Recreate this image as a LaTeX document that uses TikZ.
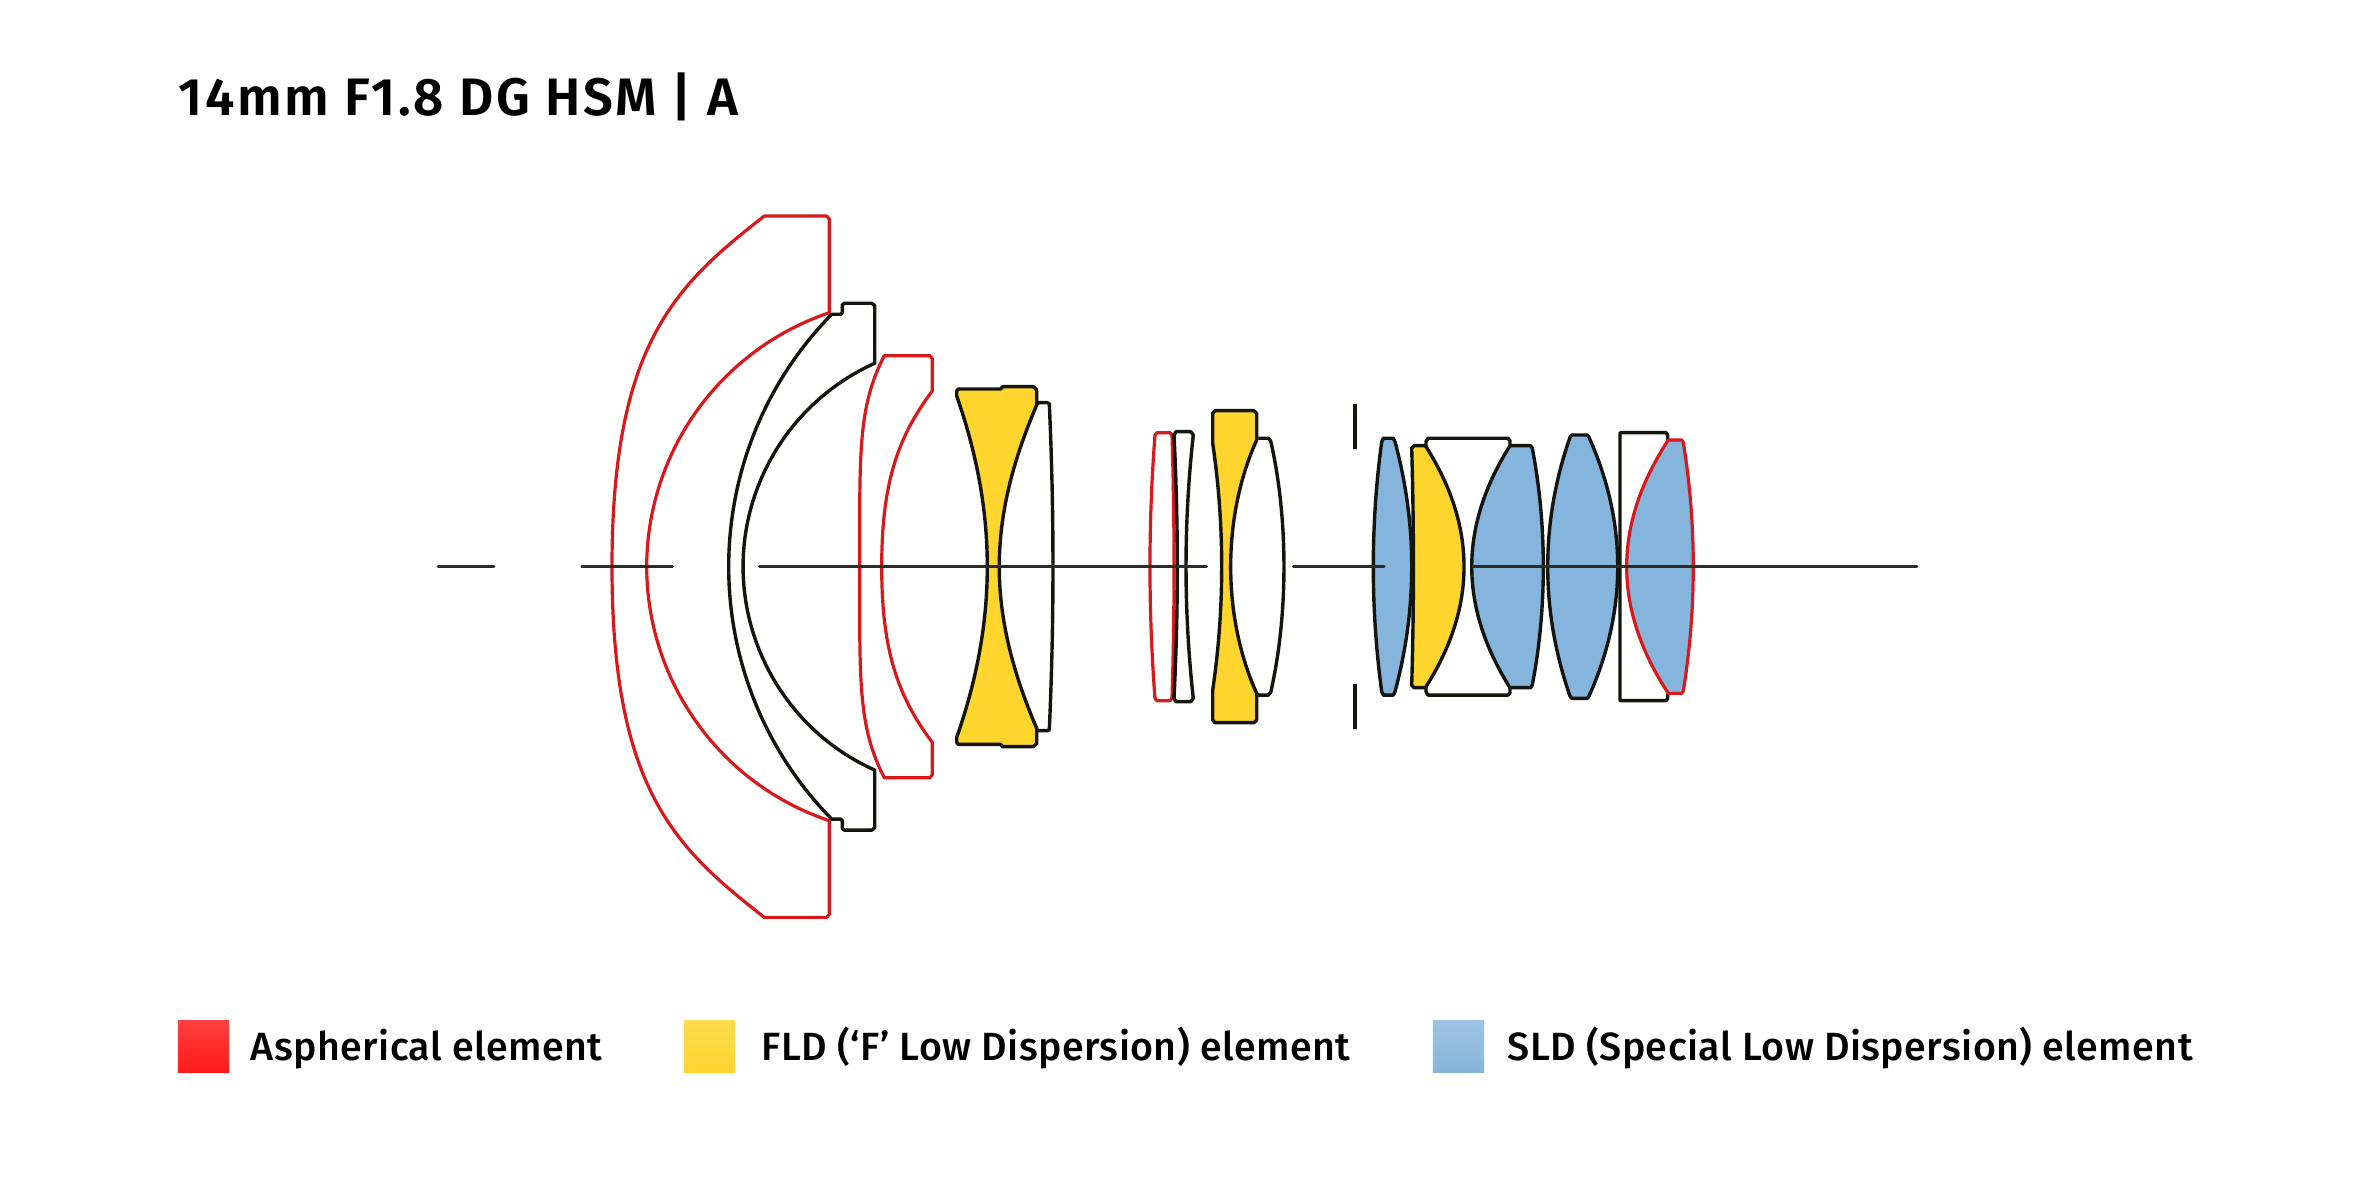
\documentclass[tikz,border=0pt]{standalone}
\usepackage{fontspec}
\setmainfont{Fira Sans}
\newfontfamily\legendfont[LetterSpace=1.1]{Fira Sans Medium}
\newfontfamily\titlefont[LetterSpace=4.9]{Fira Sans SemiBold}
\definecolor{lensred}{HTML}{D7191C}
\definecolor{lensink}{HTML}{15150F}
\definecolor{fldyellow}{HTML}{FFD52E}
\definecolor{sldblue}{HTML}{85B5DC}
\tikzset{
	redlens/.style={draw=lensred,line width=.032cm,line join=round},
	inklens/.style={draw=lensink,line width=.034cm,line join=round},
	axisline/.style={draw=lensink!90,line width=.026cm,line cap=round},
	swatch/.style={minimum size=.51cm,inner sep=0pt,outer sep=0pt},
	legendtext/.style={anchor=base west,inner sep=0pt,font=\fontsize{11.2pt}{13pt}\legendfont},
}
\begin{document}
\begin{tikzpicture}[x=.01cm,y=.01cm]
	\useasboundingbox (0,-636.3) rectangle (2362,566.7);
	\node[anchor=base west,inner sep=0pt,font=\fontsize{15pt}{18pt}\titlefont] (title) at (178,451) {14mm F1.8 DG HSM | A};
	%
	\draw[redlens] (764.3,350.7) .. controls (677.4,282.5) and (612,225) .. (612,0) .. controls (612,-225) and (677.4,-282.5) .. (764.3,-350.7)
		-- (826.7,-350.7) -- (829.3,-347.7) -- (829.3,-254) arc[start angle=251.4,end angle=108.6,radius=268]
		-- (829.3,347.7) -- (826.7,350.7) -- cycle;
	%
	\draw[inklens] (831.7,252.4) arc[start angle=135.6,end angle=224.4,radius=360.8]
		-- (840.7,-252.4) -- (842.3,-254) -- (842.3,-261.7) -- (844.3,-263.4) -- (872,-263.4) -- (874.7,-261) -- (874.7,-203.4)
		arc[start angle=245.8,end angle=114.2,radius=223]
		-- (874.7,261) -- (872,263.4) -- (844.3,263.4) -- (842.3,261.7) -- (842.3,254) -- (840.7,252.4) -- cycle;
	%
	\draw[redlens] (884.3,211) .. controls (858,160) and (859.7,115) .. (859.7,0) .. controls (859.7,-115) and (858,-160) .. (884.3,-211)
		-- (930,-211) -- (932.3,-208) -- (932.3,-175.7)
		.. controls (896,-127.7) and (881.7,-80) .. (881.7,0) .. controls (881.7,80) and (896,127.7) .. (932.3,175.7)
		-- (932.3,208) -- (930,211) -- cycle;
	%
	\draw[inklens] (1036.7,161.7) -- (1037.3,164) -- (1047.3,164) -- (1049.3,163) .. controls (1054.2,55) and (1054.2,-55) .. (1049.3,-163) -- (1047.3,-164) -- (1037.3,-164) -- (1036.7,-161.7);
	\draw[inklens,fill=fldyellow] (956.7,170.7) .. controls (997.5,54) and (997.5,-54) .. (956.7,-170.7) -- (956.7,-175.7) -- (958.3,-177.7) -- (1000.7,-177.7) -- (1002.7,-180) -- (1033.3,-180) -- (1036.7,-176.7) -- (1036.7,-161.7)
		.. controls (986.8,-45) and (986.8,45) .. (1036.7,161.7) -- (1036.7,176.7) -- (1033.3,180) -- (1002.7,180) -- (1000.7,177.7) -- (958.3,177.7) -- (956.7,175.7) -- cycle;
	%
	\draw[redlens] (1155,131.7) .. controls (1148.3,44) and (1148.3,-44) .. (1155,-131.7) -- (1157,-134) -- (1170,-134) -- (1172,-131.7) .. controls (1174.7,-44) and (1174.7,44) .. (1172,131.7) -- (1170,134) -- (1157,134) -- cycle;
	\draw[inklens] (1174,131.7) .. controls (1178.4,44) and (1178.4,-44) .. (1174,-131.7) -- (1176,-135) -- (1190.7,-135) -- (1193.3,-131.7) .. controls (1183.6,-44) and (1183.6,44) .. (1193.3,131.7) -- (1190.7,135) -- (1176,135) -- cycle;
	%
	\draw[inklens] (1258.3,128.4) -- (1268.3,128.4) -- (1270.7,125.7) .. controls (1288.4,48) and (1288.4,-48) .. (1270.7,-125.7) -- (1268.3,-128.4) -- (1258.3,-128.4) -- (1256.7,-126.7);
	\draw[inklens,fill=fldyellow] (1212.7,123.4) .. controls (1224.7,42) and (1224.7,-42) .. (1212.7,-123.4) -- (1212.7,-153.3) -- (1215,-156) -- (1254,-156) -- (1256.7,-153.3) -- (1256.7,-126.7)
		.. controls (1222,-50) and (1222,50) .. (1256.7,126.7) -- (1256.7,153.3) -- (1254,156) -- (1215,156) -- (1212.7,153.3) -- cycle;
	%
	\draw[inklens] (1355,162.7) -- (1355,117.4);
	\draw[inklens] (1355,-117.4) -- (1355,-162.7);
	%
	\draw[inklens,fill=sldblue] (1381.7,125) .. controls (1370.5,42) and (1370.5,-42) .. (1381.7,-125) -- (1383.3,-128.4) -- (1393.3,-128.4) -- (1395,-125) .. controls (1417.3,-42) and (1417.3,42) .. (1395,125) -- (1393.3,128.4) -- (1383.3,128.4) -- cycle;
	\draw[inklens,fill=fldyellow] (1411.7,118.4) .. controls (1414,40) and (1414,-40) .. (1411.7,-118.4) -- (1414,-121) -- (1425,-121) -- (1426,-120) .. controls (1476.7,-40) and (1476.7,40) .. (1426,120) -- (1425,121) -- (1414,121) -- cycle;
	\draw[inklens] (1426,120) -- (1426,125) -- (1428,128.4) -- (1508,128.4) -- (1510,126) -- (1510,120);
	\draw[inklens] (1426,-120) -- (1426,-125) -- (1428,-128.4) -- (1508,-128.4) -- (1510,-126) -- (1510,-120);
	\draw[inklens,fill=sldblue] (1510,121) .. controls (1459,40) and (1459,-40) .. (1510,-121) -- (1530.7,-121) -- (1532.3,-118.4) .. controls (1547,-42) and (1547,42) .. (1532.3,118.4) -- (1530.7,121) -- cycle;
	\draw[inklens,fill=sldblue] (1570,129.4) .. controls (1540.3,44) and (1540.3,-44) .. (1570,-129.4) -- (1571.7,-131.7) -- (1587.3,-131.7) -- (1589,-129.4) .. controls (1627.3,-44) and (1627.3,44) .. (1589,129.4) -- (1587.3,131.7) -- (1571.7,131.7) -- cycle;
	\draw[inklens] (1667.7,126.7) -- (1667.7,131.7) -- (1666,134) -- (1620,134) -- (1620,-134) -- (1666,-134) -- (1667.7,-131.7) -- (1667.7,-126.7);
	\draw[redlens,fill=sldblue] (1668.3,126.7) .. controls (1612.8,42) and (1612.8,-42) .. (1668.3,-126.7) -- (1681.7,-126.7) -- (1683.3,-124.4) .. controls (1696.6,-42) and (1696.6,42) .. (1683.3,124.4) -- (1681.7,126.7) -- cycle;
	%
	\draw[axisline] (438,0) -- (494,0);
	\draw[axisline] (581.7,0) -- (672.7,0);
	\draw[axisline] (759.3,0) -- (1206.7,0);
	\draw[axisline] (1293.3,0) -- (1384.3,0);
	\draw[axisline] (1472.7,0) -- (1917,0);
	%
	\node[swatch,top color=red!75!white,bottom color=red!90!white] (aspherical) at (203.5,-479.8) {};
	\node[legendtext] (asphericaltext) at (250,-493.8) {Aspherical element};
	\node[swatch,top color=fldyellow!85!white,bottom color=fldyellow] (fld) at (709.5,-479.8) {};
	\node[legendtext] (fldtext) at (761,-493.8) {FLD (‘F’ Low Dispersion) element};
	\node[swatch,top color=sldblue!80!white,bottom color=sldblue] (sld) at (1458.5,-479.8) {};
	\node[legendtext] (sldtext) at (1507,-493.8) {SLD (Special Low Dispersion) element};
\end{tikzpicture}
\end{document}
